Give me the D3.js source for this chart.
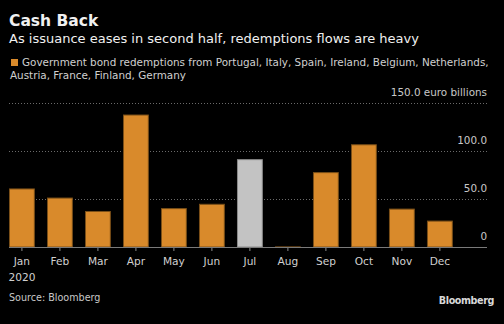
<!DOCTYPE html>
<html>
<head>
<meta charset="utf-8">
<script src="https://cdn.jsdelivr.net/npm/d3@7"></script>
<style>
  body { margin: 0; background: #000; }
  svg { display: block; font-family: "DejaVu Sans", sans-serif; }
</style>
</head>
<body>
<div id="chart"></div>
<script>
// monthly redemptions, euro billions
var months = ["Jan", "Feb", "Mar", "Apr", "May", "Jun", "Jul", "Aug", "Sep", "Oct", "Nov", "Dec"];
var redemptions = [61, 51.5, 37.5, 138, 40.5, 45, 91.5, 0.6, 78, 107, 40, 27.5];
var highlight = ["Jul"];
var yTicks = [0, 50, 100, 150];

var W = 504, H = 324;

var svg = d3.select("#chart").append("svg")
    .attr("width", W)
    .attr("height", H)
    .style("background-color", "#000");

// scales
var x = d3.scaleBand()
    .domain(months)
    .range([9, 452.8])
    .paddingInner(0.32)
    .paddingOuter(0);

var y = d3.scaleLinear()
    .domain([0, 150])
    .range([247, 103]);

// header
svg.append("text").attr("x", 9).attr("y", 26)
    .attr("fill", "#f0f0f0").attr("font-size", 15.5).attr("font-weight", "bold")
    .text("Cash Back");
svg.append("text").attr("x", 9).attr("y", 43)
    .attr("fill", "#f0f0f0").attr("font-size", 13)
    .text("As issuance eases in second half, redemptions flows are heavy");

// legend
svg.append("rect").attr("x", 11).attr("y", 59).attr("width", 7).attr("height", 7)
    .attr("fill", "#d98a2b");
svg.append("text").attr("x", 22).attr("y", 66)
    .attr("fill", "#d0d0d0").attr("font-size", 10.4)
    .text("Government bond redemptions from Portugal, Italy, Spain, Ireland, Belgium, Netherlands,");
svg.append("text").attr("x", 10).attr("y", 79)
    .attr("fill", "#d0d0d0").attr("font-size", 10.4)
    .text("Austria, France, Finland, Germany");

// gridlines
svg.append("g")
    .selectAll("line")
    .data(yTicks.filter(function (d) { return d > 0; }))
    .join("line")
    .attr("x1", 9).attr("x2", 487)
    .attr("y1", function (d) { return y(d) + 0.5; })
    .attr("y2", function (d) { return y(d) + 0.5; })
    .attr("stroke", "#6a6a6a")
    .attr("stroke-width", 1)
    .attr("stroke-dasharray", "1,2");

// y labels, right aligned above each line
svg.append("g")
    .selectAll("text")
    .data(yTicks)
    .join("text")
    .attr("x", 487)
    .attr("y", function (d) { return y(d) - 7; })
    .attr("text-anchor", "end")
    .attr("fill", "#c8c8c8")
    .attr("font-size", 10.4)
    .text(function (d) { return d === 0 ? "0" : d === 150 ? "150.0  euro billions" : d3.format(".1f")(d); });

// bars
svg.append("g")
    .selectAll("rect")
    .data(months)
    .join("rect")
    .attr("x", function (d) { return x(d) + 0.5; })
    .attr("y", function (d, i) { return y(redemptions[i]) + 0.5; })
    .attr("width", x.bandwidth() - 1)
    .attr("height", function (d, i) { return Math.max(0, y(0) - y(redemptions[i]) - 0.5); })
    .attr("fill", function (d) { return highlight.includes(d) ? "#c3c3c3" : "#d98a2b"; })
    .attr("stroke", function (d) { return highlight.includes(d) ? "#8a8a8a" : "#7a4f18"; })
    .attr("stroke-width", 1);

// x axis
var xAxis = svg.append("g")
    .attr("transform", "translate(0," + y(0) + ")")
    .call(d3.axisBottom(x).tickSize(4).tickPadding(6).tickSizeOuter(0));
xAxis.select(".domain").remove();
xAxis.selectAll(".tick line").attr("stroke", "#8a8a8a");
xAxis.selectAll(".tick text")
    .attr("fill", "#d0d0d0")
    .attr("font-size", 10.6)
    .attr("font-family", "DejaVu Sans, sans-serif");
svg.append("line")
    .attr("x1", 9).attr("x2", 487)
    .attr("y1", y(0) + 0.5).attr("y2", y(0) + 0.5)
    .attr("stroke", "#7a7a7a").attr("stroke-width", 1.2);

svg.append("text")
    .attr("x", x("Jan") + x.bandwidth() / 2).attr("y", 281)
    .attr("text-anchor", "middle")
    .attr("fill", "#d0d0d0").attr("font-size", 10.6)
    .text("2020");

// footer
svg.append("text").attr("x", 9).attr("y", 301)
    .attr("fill", "#c8c8c8").attr("font-size", 9.6)
    .text("Source: Bloomberg");
svg.append("text").attr("x", 494).attr("y", 304)
    .attr("text-anchor", "end")
    .attr("fill", "#d8d8d8").attr("font-size", 9.6).attr("font-weight", "bold")
    .attr("letter-spacing", "-0.4")
    .text("Bloomberg");
</script>
</body>
</html>
